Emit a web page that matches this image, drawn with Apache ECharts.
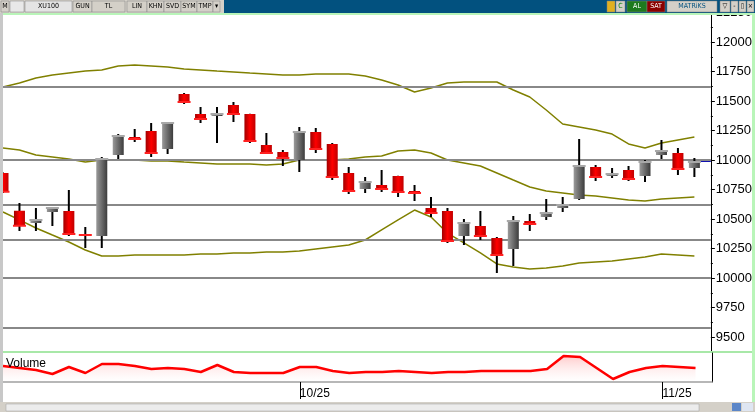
<!DOCTYPE html>
<html>
<head>
<meta charset="utf-8">
<title>XU100</title>
<script src="https://cdn.jsdelivr.net/npm/echarts@6/dist/echarts.min.js"></script>
<style>html,body{margin:0;padding:0;background:#fff;}</style>
</head>
<body>
<div id="main" style="width:755px;height:412px;"></div>
<script>
var chart = echarts.init(document.getElementById('main'));

// trading days (the last one is an empty slot at the right edge)
var dates = ['2025-09-05','2025-09-08','2025-09-09','2025-09-10','2025-09-11','2025-09-12','2025-09-15','2025-09-16',
  '2025-09-17','2025-09-18','2025-09-19','2025-09-22','2025-09-23','2025-09-24','2025-09-25','2025-09-26','2025-09-29',
  '2025-09-30','2025-10-01','2025-10-02','2025-10-03','2025-10-06','2025-10-07','2025-10-08','2025-10-09','2025-10-10',
  '2025-10-13','2025-10-14','2025-10-15','2025-10-16','2025-10-17','2025-10-20','2025-10-21','2025-10-22','2025-10-23',
  '2025-10-24','2025-10-27','2025-10-28','2025-10-30','2025-10-31','2025-11-03','2025-11-04','2025-11-05','2025-11-06'];

// open, close, low, high
var ohlc = [
  [10890,10730,10720,10895],[10570,10443,10398,10636],[10466,10492,10398,10593],[10559,10593,10441,10595],
  [10568,10373,10356,10746],[10373,10364,10254,10432],[10356,11008,10254,11025],[11042,11203,11008,11220],
  [11195,11178,11153,11263],[11246,11059,11025,11314],[11093,11314,11051,11320],[11559,11492,11475,11568],
  [11390,11347,11314,11449],[11381,11390,11144,11449],[11466,11390,11322,11492],[11390,11161,11144,11392],
  [11127,11059,11055,11229],[11068,11017,10949,11085],[11000,11237,10898,11280],[11237,11093,11059,11271],
  [11136,10856,10830,11144],[10890,10737,10712,10941],[10754,10814,10720,10856],[10788,10754,10729,10915],
  [10864,10729,10686,10866],[10737,10720,10653,10788],[10593,10551,10517,10686],[10568,10314,10297,10593],
  [10356,10466,10280,10500],[10441,10356,10322,10568],[10339,10195,10042,10347],[10246,10483,10102,10525],
  [10483,10458,10398,10542],[10517,10551,10492,10669],[10593,10619,10559,10686],[10669,10949,10661,11178],
  [10941,10856,10822,10958],[10864,10881,10847,10932],[10915,10839,10822,10949],[10864,10983,10814,11000],
  [11042,11076,11008,11169],[11059,10924,10873,11102],[10932,10983,10856,11017]
];

var upperBand = [11619,11653,11695,11720,11737,11754,11763,11797,11805,11797,11788,11771,11763,11754,11746,11737,
  11729,11720,11720,11729,11729,11729,11712,11678,11636,11576,11610,11653,11661,11661,11661,11593,11534,11424,
  11305,11280,11254,11220,11136,11102,11144,11170,11195];
var midBand = [11102,11085,11042,11025,11008,10983,11000,11000,11000,10992,10992,10983,10975,10966,10966,10966,
  10958,10966,11000,11000,11000,11008,11025,11034,11076,11085,11059,11000,10975,10949,10890,10830,10771,10737,
  10720,10703,10695,10678,10661,10653,10669,10678,10686];
var lowerBand = [10559,10492,10424,10364,10305,10237,10186,10186,10195,10195,10195,10195,10203,10203,10212,10212,
  10220,10220,10229,10246,10263,10280,10322,10407,10492,10576,10517,10381,10297,10212,10119,10093,10076,10085,
  10102,10127,10136,10144,10161,10178,10203,10195,10186];

var volume = [16,14,12,8,15,9,18,18,16,13,14,13,10,17,10,9,9,9,15,15,11,9,10,10,11,10,9,10,10,11,11,11,11,13,
  26,25,14,3,10,14,16,15,14];

var levels = [11620, 11000, 10620, 10320, 10000, 9580];
var lastPrice = 10992;

var candleData = ohlc.map(function (d, i) { return [i, d[0], d[1], d[2], d[3]]; });
var lastLine = dates.map(function (d, i) { return i >= 42 ? lastPrice : null; });

function renderCandle(params, api) {
  var i = api.value(0);
  var o = api.value(1), c = api.value(2), l = api.value(3), h = api.value(4);
  var pH = api.coord([i, h]), pL = api.coord([i, l]);
  var pO = api.coord([i, o]), pC = api.coord([i, c]);
  var w = 11;
  var down = c < o;
  var top = Math.min(pO[1], pC[1]);
  var hgt = Math.max(Math.abs(pO[1] - pC[1]), 2);
  var fill = down
    ? new echarts.graphic.LinearGradient(0, 0, 1, 0, [{offset: 0, color: '#a00000'}, {offset: 0.5, color: '#ff0000'}, {offset: 1, color: '#c00000'}])
    : new echarts.graphic.LinearGradient(0, 0, 1, 0, [{offset: 0, color: '#9a9a9a'}, {offset: 1, color: '#3c3c3c'}]);
  return {
    type: 'group',
    children: [
      {type: 'line', shape: {x1: pH[0], y1: pH[1], x2: pL[0], y2: pL[1]}, style: {stroke: '#000', lineWidth: 2}},
      {type: 'rect', shape: {x: pO[0] - w / 2, y: top, width: w, height: hgt}, style: {fill: fill}},
      {type: 'line', shape: {x1: pC[0] - w / 2 - 1, y1: pC[1], x2: pC[0] + w / 2 + 1, y2: pC[1]},
        style: {stroke: down ? '#ff2020' : '#a8a8a8', lineWidth: 2}}
    ]
  };
}

function button(x, w, label, fill, color) {
  return [
    {type: 'rect', shape: {x: x, y: 1, width: w, height: 11}, style: {fill: fill || '#d4d0c8', stroke: '#808080', lineWidth: 0.5}, z: 100},
    {type: 'text', x: x + w / 2, y: 6.5, style: {text: label, fontSize: 7, fontFamily: 'DejaVu Sans Condensed', fill: color || '#000', align: 'center', verticalAlign: 'middle'}, z: 101}
  ];
}

var graphics = [
  {type: 'rect', shape: {x: 0, y: 0, width: 755, height: 13}, style: {fill: '#02517f'}, z: 99},
  {type: 'rect', shape: {x: 0, y: 0, width: 224, height: 13}, style: {fill: '#d4d0c8'}, z: 99},
  {type: 'rect', shape: {x: 0, y: 13, width: 755, height: 2}, style: {fill: '#b9f5b9'}, z: 99},
  {type: 'rect', shape: {x: 0, y: 13, width: 3, height: 390}, style: {fill: '#c8c8c8'}, z: 99},
  {type: 'rect', shape: {x: 752, y: 13, width: 3, height: 390}, style: {fill: '#b9f5b9'}, z: 99},
  // volume panel background
  {type: 'rect', shape: {x: 3, y: 351, width: 749, height: 52}, style: {fill: '#fff'}, z: 40},
  {type: 'rect', shape: {x: 3, y: 351, width: 749, height: 2}, style: {fill: '#a8e8a8'}, z: 41},
  {type: 'text', x: 6, y: 358, style: {text: 'Volume', fontSize: 12, fontFamily: 'Liberation Sans', fill: '#000'}, z: 70},
  {type: 'rect', shape: {x: 0, y: 402, width: 755, height: 10}, style: {fill: '#d4d0c8'}, z: 99},
  {type: 'rect', shape: {x: 6, y: 404, width: 693, height: 7}, style: {fill: '#ececec', stroke: '#a0a0a0', lineWidth: 0.5}, z: 100},
  {type: 'rect', shape: {x: 732, y: 403, width: 9, height: 8}, style: {fill: '#5b86c8'}, z: 100},
  {type: 'rect', shape: {x: 742, y: 403, width: 11, height: 8}, style: {fill: '#dfe6f2'}, z: 100}
];
graphics = graphics
  .concat(button(1, 8, 'M'))
  .concat(button(10, 14, '', '#e8e8e8'))
  .concat(button(25, 47, 'XU100', '#e4e4e4'))
  .concat(button(73, 19, 'GUN'))
  .concat(button(92, 33, 'TL'))
  .concat(button(127, 20, 'LIN'))
  .concat(button(147, 17, 'KHN'))
  .concat(button(164, 17, 'SVD'))
  .concat(button(181, 16, 'SYM'))
  .concat(button(197, 16, 'TMP'))
  .concat(button(213, 7, '\u25BE'))
  .concat(button(607, 8, '', '#e0b020'))
  .concat(button(616, 9, 'C', '#d4d0c8', '#008000'))
  .concat(button(627, 20, 'AL', '#1e7a1e', '#fff'))
  .concat(button(647, 18, 'SAT', '#8b0000', '#fff'))
  .concat(button(667, 50, 'MATRiKS', '#d4d0c8', '#02517f'))
  .concat(button(720, 10, '\u25BD'))
  .concat(button(731, 7, '-'))
  .concat(button(739, 7, '\u25AF'))
  .concat(button(747, 7, '\u00D7'));

var monthTicks = function (i) { return i === 18 || i === 40; };

var option = {
  backgroundColor: '#fff',
  animation: false,
  grid: [
    {left: 3, right: 43, top: 12.5, height: 354},
    {left: 3, right: 43, top: 353, height: 29}
  ],
  xAxis: [
    {type: 'category', gridIndex: 0, data: dates, boundaryGap: false, show: false},
    {
      type: 'category', gridIndex: 1, data: dates, boundaryGap: false, z: 60,
      axisLine: {lineStyle: {color: '#a0a0a0', width: 1.5}},
      axisTick: {interval: monthTicks, length: 17, lineStyle: {color: '#000'}},
      axisLabel: {
        interval: monthTicks, align: 'left', margin: 6,
        fontSize: 12, fontFamily: 'Liberation Sans', color: '#000',
        formatter: function (v) { return v.slice(5, 7) + '/' + v.slice(2, 4); }
      }
    }
  ],
  yAxis: [
    {
      type: 'value', gridIndex: 0, position: 'right', min: 9250, max: 12250, interval: 250,
      splitLine: {show: false},
      axisLine: {show: true, lineStyle: {color: '#000', width: 1}},
      axisTick: {show: true, length: 4, lineStyle: {color: '#000'}},
      minorTick: {show: true, splitNumber: 2, length: 2, lineStyle: {color: '#000'}},
      axisLabel: {margin: 5, fontSize: 13, fontFamily: 'Liberation Sans', color: '#000',
        formatter: function (v) { return String(v); }}
    },
    {
      type: 'value', gridIndex: 1, position: 'right', min: 0, max: 29,
      axisLine: {show: true, lineStyle: {color: '#000'}}, z: 60,
      axisTick: {show: false}, axisLabel: {show: false}, splitLine: {show: false}
    }
  ],
  graphic: graphics,
  series: [
    {
      type: 'line', xAxisIndex: 0, yAxisIndex: 0, data: [], z: 1, silent: true,
      markLine: {
        silent: true, symbol: 'none', label: {show: false},
        lineStyle: {color: '#888888', width: 2, type: 'solid'},
        data: levels.map(function (v) { return {yAxis: v}; })
      }
    },
    {type: 'line', data: upperBand, showSymbol: false, lineStyle: {color: '#808000', width: 1.5}, z: 2},
    {type: 'line', data: midBand, showSymbol: false, lineStyle: {color: '#808000', width: 1.5}, z: 2},
    {type: 'line', data: lowerBand, showSymbol: false, lineStyle: {color: '#808000', width: 1.5}, z: 2},
    {type: 'line', data: lastLine, showSymbol: false, lineStyle: {color: '#1010b0', width: 2}, z: 2},
    {type: 'custom', data: candleData, renderItem: renderCandle, clip: true, encode: {x: 0, y: [1, 2, 3, 4]}, z: 5},
    {
      type: 'line', xAxisIndex: 1, yAxisIndex: 1, data: volume, showSymbol: false, z: 60,
      lineStyle: {color: '#ff0000', width: 2.5},
      areaStyle: {color: new echarts.graphic.LinearGradient(0, 0, 0, 1, [{offset: 0, color: 'rgba(255,120,120,0.55)'}, {offset: 1, color: 'rgba(255,255,255,0.2)'}])}
    }
  ]
};
chart.setOption(option);
</script>
</body>
</html>
